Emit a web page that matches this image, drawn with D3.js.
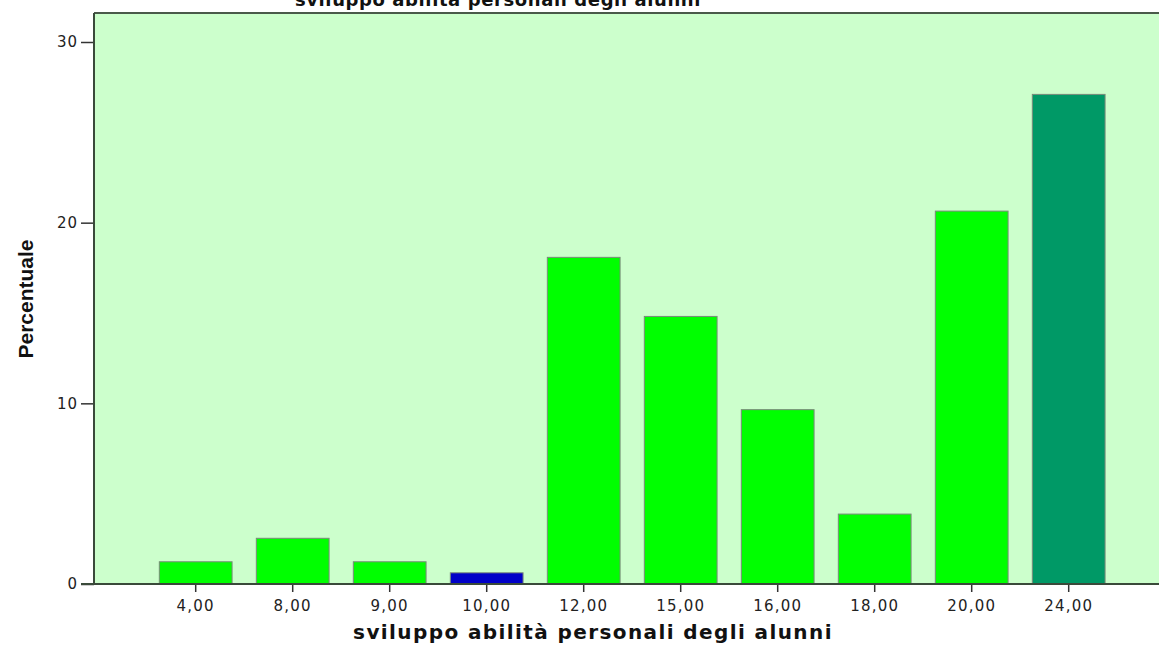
<!DOCTYPE html>
<html>
<head>
<meta charset="utf-8">
<script src="https://cdn.jsdelivr.net/npm/d3@7"></script>
<style>
  html, body { margin: 0; padding: 0; background: #ffffff; }
  svg { display: block; }
</style>
</head>
<body>
<svg id="chart" width="1159" height="648"></svg>
<script>
const categories = ["4,00", "8,00", "9,00", "10,00", "12,00", "15,00", "16,00", "18,00", "20,00", "24,00"];
const percentages = [1.23, 2.53, 1.23, 0.62, 18.08, 14.81, 9.65, 3.87, 20.64, 27.10];
const barColors = ["#00ff00", "#00ff00", "#00ff00", "#0000c8", "#00ff00", "#00ff00", "#00ff00", "#00ff00", "#00ff00", "#009966"];
const yTicks = [0, 10, 20, 30];
const title = "sviluppo abilità personali degli alunni";
const xTitle = "sviluppo abilità personali degli alunni";
const yTitle = "Percentuale";

const svg = d3.select("#chart");

const plot = { left: 94, right: 1175, top: 13, bottom: 584 };

const x = d3.scaleBand()
  .domain(categories)
  .range([147.2, 1117.2])
  .paddingInner(0.25)
  .paddingOuter(0.125);

const y = d3.scaleLinear()
  .domain([0, 30])
  .range([584, 42]);

// plot background
svg.append("rect")
  .attr("x", plot.left)
  .attr("y", plot.top)
  .attr("width", plot.right - plot.left)
  .attr("height", plot.bottom - plot.top)
  .attr("fill", "#ccffcc");

// top border
svg.append("line")
  .attr("x1", plot.left).attr("x2", plot.right)
  .attr("y1", plot.top).attr("y2", plot.top)
  .attr("stroke", "#4a5a4a").attr("stroke-width", 2);

// bars
svg.append("g").selectAll("rect")
  .data(categories.map((c, i) => ({ c, v: percentages[i], col: barColors[i] })))
  .join("rect")
  .attr("x", d => x(d.c))
  .attr("y", d => y(d.v))
  .attr("width", x.bandwidth())
  .attr("height", d => y(0) - y(d.v))
  .attr("fill", d => d.col)
  .attr("stroke", "#7a8a7a")
  .attr("stroke-width", 1);

const tickFont = "'DejaVu Sans', Verdana, sans-serif";

// y axis
const yAxis = d3.axisLeft(y).tickValues(yTicks).tickSize(13).tickPadding(3).tickFormat(d3.format("d"));
const gy = svg.append("g").attr("transform", `translate(${plot.left},0)`).call(yAxis);
gy.select(".domain").remove();
gy.append("line")
  .attr("x1", 0).attr("x2", 0)
  .attr("y1", plot.top).attr("y2", plot.bottom + 1)
  .attr("stroke", "#3a4a3a").attr("stroke-width", 2);
gy.selectAll(".tick line").attr("stroke", "#333").attr("stroke-width", 1.5);
gy.selectAll(".tick text")
  .attr("fill", "#222")
  .style("font-family", tickFont)
  .style("font-size", "15px")
  .style("letter-spacing", "1px");

// x axis
const xAxis = d3.axisBottom(x).tickSize(8).tickPadding(8);
const gx = svg.append("g").attr("transform", `translate(0,${plot.bottom})`).call(xAxis);
gx.select(".domain").remove();
gx.append("line")
  .attr("x1", plot.left - 13).attr("x2", 1159)
  .attr("y1", 0).attr("y2", 0)
  .attr("stroke", "#3a4a3a").attr("stroke-width", 2);
gx.selectAll(".tick line").attr("stroke", "#333").attr("stroke-width", 1.5);
gx.selectAll(".tick text")
  .attr("fill", "#222")
  .style("font-family", tickFont)
  .style("font-size", "15px")
  .style("letter-spacing", "1.2px");

// title (partly cut off at top, as in the reference)
svg.append("text")
  .attr("x", 498)
  .attr("y", 6)
  .attr("text-anchor", "middle")
  .style("font-family", "'DejaVu Sans', Verdana, sans-serif")
  .style("font-weight", "bold")
  .style("font-size", "18px")
  .style("letter-spacing", "0.6px")
  .attr("fill", "#111")
  .text(title);

// x axis title
svg.append("text")
  .attr("x", 593)
  .attr("y", 639)
  .attr("text-anchor", "middle")
  .style("font-family", "'DejaVu Sans', Verdana, sans-serif")
  .style("font-weight", "bold")
  .style("font-size", "20px")
  .style("letter-spacing", "1.4px")
  .attr("fill", "#111")
  .text(xTitle);

// y axis title
svg.append("text")
  .attr("transform", "translate(33,299) rotate(-90)")
  .attr("text-anchor", "middle")
  .style("font-family", "'Liberation Sans Narrow', 'Arial Narrow', 'Liberation Sans', sans-serif")
  .style("font-weight", "bold")
  .style("font-size", "21px")
  .attr("fill", "#111")
  .text(yTitle);
</script>
</body>
</html>
